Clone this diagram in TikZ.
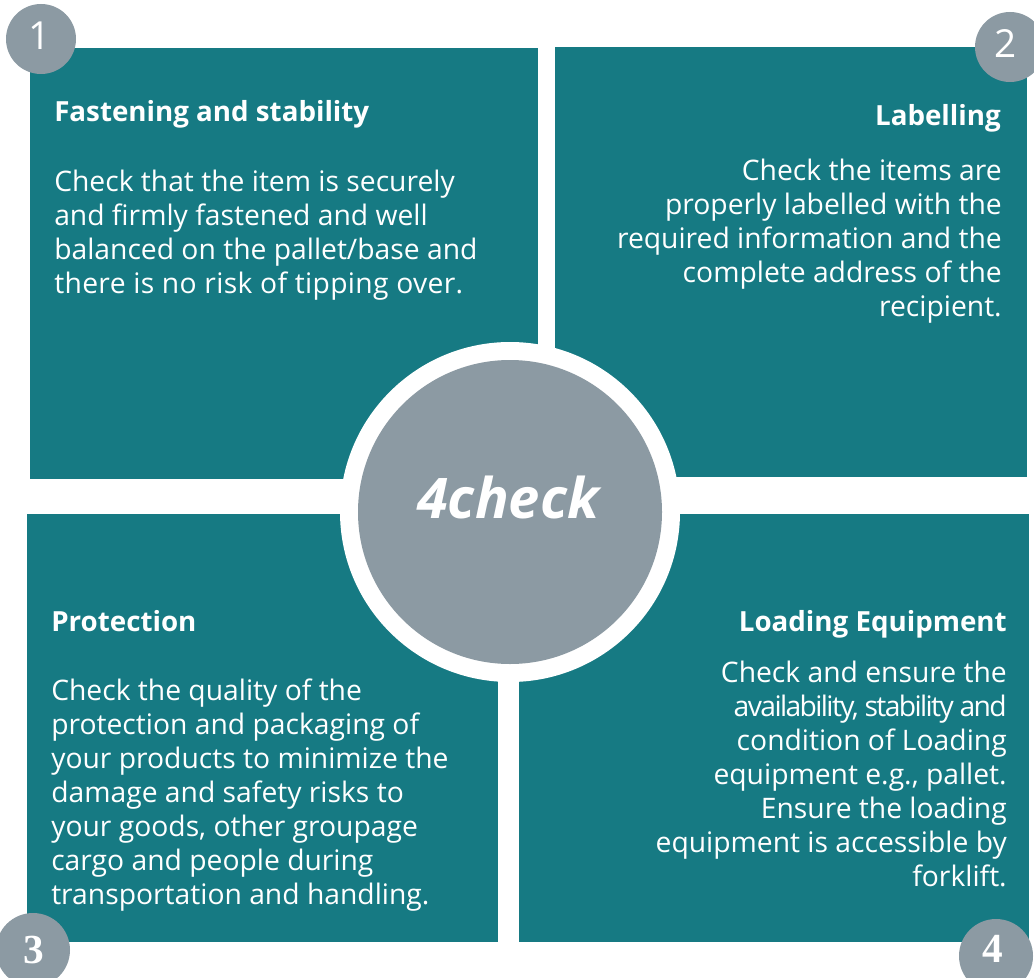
\documentclass[tikz,border=0pt]{standalone}
\usepackage{fontspec}
\setmainfont{Open Sans}
\newfontfamily\numserif{Liberation Serif}
\definecolor{tealbox}{HTML}{167A83}
\definecolor{greydisc}{HTML}{8C9AA3}
\tikzset{
  x=0.75pt,y=-0.75pt,
  panel/.style={fill=tealbox,draw=none},
  heading/.style={text=white,inner sep=0pt,font=\fontsize{20.8}{25.5}\selectfont\bfseries},
  bodytext/.style={text=white,inner sep=0pt,font=\fontsize{21.2}{25.5}\selectfont},
  badge/.style={circle,fill=greydisc,inner sep=0pt,minimum size=52.5pt},
  badgeserif/.style={badge,minimum size=55.5pt},
  numsans/.style={text=white,inner sep=0pt,font=\fontsize{29}{30}\selectfont},
  numbold/.style={text=white,inner sep=0pt,font=\fontsize{31}{30}\selectfont\numserif\bfseries},
}
\begin{document}
\begin{tikzpicture}
\useasboundingbox[fill=white] (0,0) rectangle (1034,977);
\fill[panel] (30,48) rectangle (538,479);
\fill[panel] (555,47) rectangle (1027,477);
\fill[panel] (27,514) rectangle (498,942);
\fill[panel] (519,514) rectangle (1029,942);
\node[circle,fill=white,inner sep=0pt,minimum size=255pt] (halo) at (510,512) {};
\node[circle,fill=greydisc,inner sep=0pt,minimum size=228pt] (centre) at (510,512) {};
\node[text=white,inner sep=0pt,font=\fontsize{42}{46}\selectfont\bfseries\itshape] (centrelabel) at (508,497) {4check};
\begin{scope}
\clip (0,0) rectangle (1034,977);
\node[badge] (b1) at (41,39) {};
\node[badge] (b2) at (1010,47) {};
\node[badgeserif] (b3) at (33,950) {};
\node[badgeserif] (b4) at (996,956) {};
\node[numsans] (n1) at (40,36) {1};
\node[numsans] (n2) at (1006,44) {2};
\node[numbold] (n3) at (34,950) {3};
\node[numbold] (n4) at (993,949) {4};
\end{scope}
\node[heading,anchor=base west] (h1) at (54,122) {Fastening and stability};
\node[bodytext,anchor=north west,align=left] (t1) at (54,170) {Check that the item is securely\\and firmly fastened and well\\balanced on the pallet/base and\\{\addfontfeature{LetterSpace=1.2}there is no risk of tipping over.}};
\node[heading,anchor=base east] (h2) at (1001,126) {Labelling};
\node[bodytext,anchor=north east,align=right] (t2) at (1002,159) {Check the items are\\properly labelled with the\\required information and the\\complete address of the\\recipient.};
\node[heading,anchor=base west] (h3) at (51,631) {Protection};
\node[bodytext,anchor=north west,align=left] (t3) at (51,679) {Check the quality of the\\protection and packaging of\\your products to minimize the\\damage and safety risks to\\your goods, other groupage\\cargo and people during\\transportation and handling.};
\node[heading,anchor=base east] (h4) at (1007,631) {Loading Equipment};
\node[bodytext,anchor=north east,align=right] (t4) at (1007,661) {Check and ensure the\\{\addfontfeature{LetterSpace=-5.7}availability, stability and}\\condition of Loading\\equipment e.g., pallet.\\Ensure the loading\\equipment is accessible by\\forklift.};
\end{tikzpicture}
\end{document}
